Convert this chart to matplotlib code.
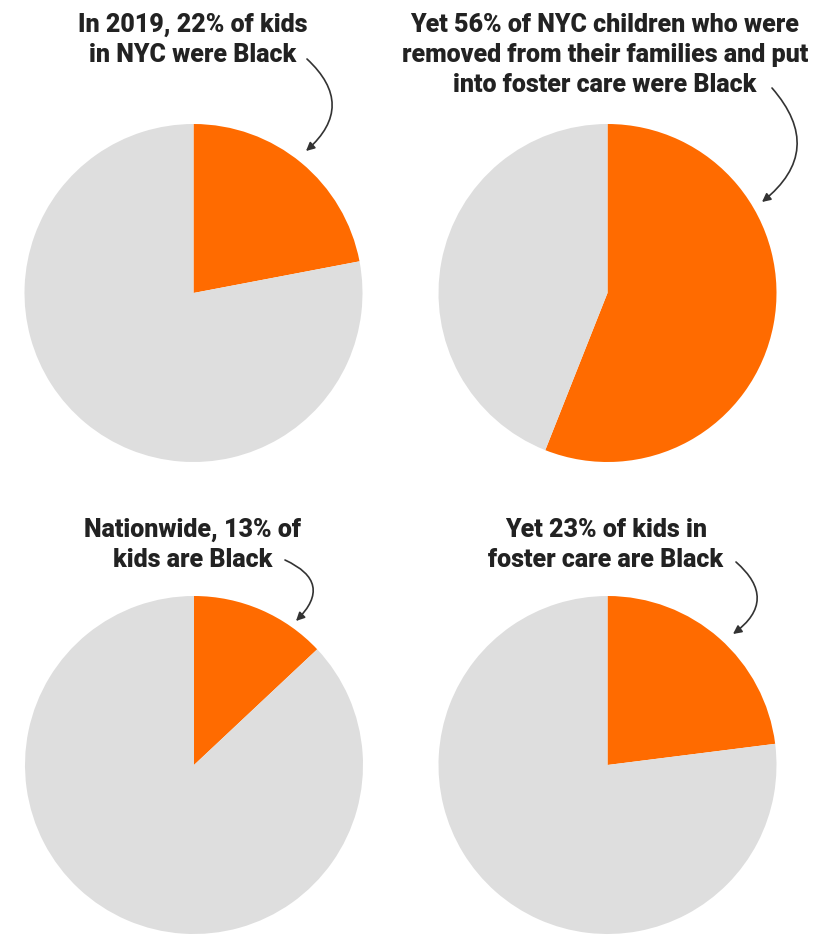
import matplotlib
matplotlib.use("Agg")
import matplotlib.pyplot as plt
from matplotlib.patches import FancyArrowPatch

# ---- data ----
black_share = [22, 56, 13, 23]           # % Black in each pie
other_share = [100 - v for v in black_share]
titles = [
    ["In 2019, 22% of kids", "in NYC were Black"],
    ["Yet 56% of NYC children who were", "removed from their families and put", "into foster care were Black"],
    ["Nationwide, 13% of", "kids are Black"],
    ["Yet 23% of kids in", "foster care are Black"],
]

ORANGE = "#FF6B00"
GREY = "#DEDEDE"
TEXT = "#222222"

W, H = 835, 937
fig = plt.figure(figsize=(W / 100, H / 100), dpi=100)
fig.patch.set_facecolor("white")

def fx(px):
    return px / W

def fy(py):
    return 1 - py / H

# pie layout in pixels: (cx, cy, r)
pie_geo = [(193.5, 294, 169), (607.5, 294, 169), (194, 766, 169), (607.5, 766, 169)]
# title layout: (center x, first baseline y, line spacing)
title_geo = [(193, 32, 30), (605, 32, 30), (193, 537, 30), (606, 537, 30)]
# arrows: (start, end, rad)
arrow_geo = [((307, 60), (306, 152), -0.55),
             ((772, 89), (762, 203), -0.52),
             ((285, 561), (296, 622), -0.72),
             ((736, 563), (733, 635), -0.62)]

for i in range(4):
    cx, cy, r = pie_geo[i]
    ax = fig.add_axes([fx(cx - r), fy(cy + r), fx(2 * r), (2 * r) / H])
    ax.pie([black_share[i], other_share[i]], colors=[ORANGE, GREY],
           startangle=90, counterclock=False, radius=1,
           wedgeprops=dict(linewidth=0))
    ax.set_xlim(-1, 1)
    ax.set_ylim(-1, 1)
    ax.set_aspect("equal")
    ax.axis("off")

    tx, ty, sp = title_geo[i]
    for j, line in enumerate(titles[i]):
        fig.text(fx(tx), fy(ty + j * sp), line, ha="center", va="baseline",
                 fontsize=18, fontweight="heavy", color=TEXT,
                 family=["Roboto"])

    (x1, y1), (x2, y2), rad = arrow_geo[i]
    arr = FancyArrowPatch((fx(x1), fy(y1)), (fx(x2), fy(y2)),
                          transform=fig.transFigure,
                          connectionstyle=f"arc3,rad={rad}",
                          arrowstyle="-|>,head_length=5,head_width=2.5",
                          color="#333333", linewidth=1.2, shrinkA=0, shrinkB=0)
    fig.add_artist(arr)

fig.savefig("out.png", dpi=100, facecolor="white")
